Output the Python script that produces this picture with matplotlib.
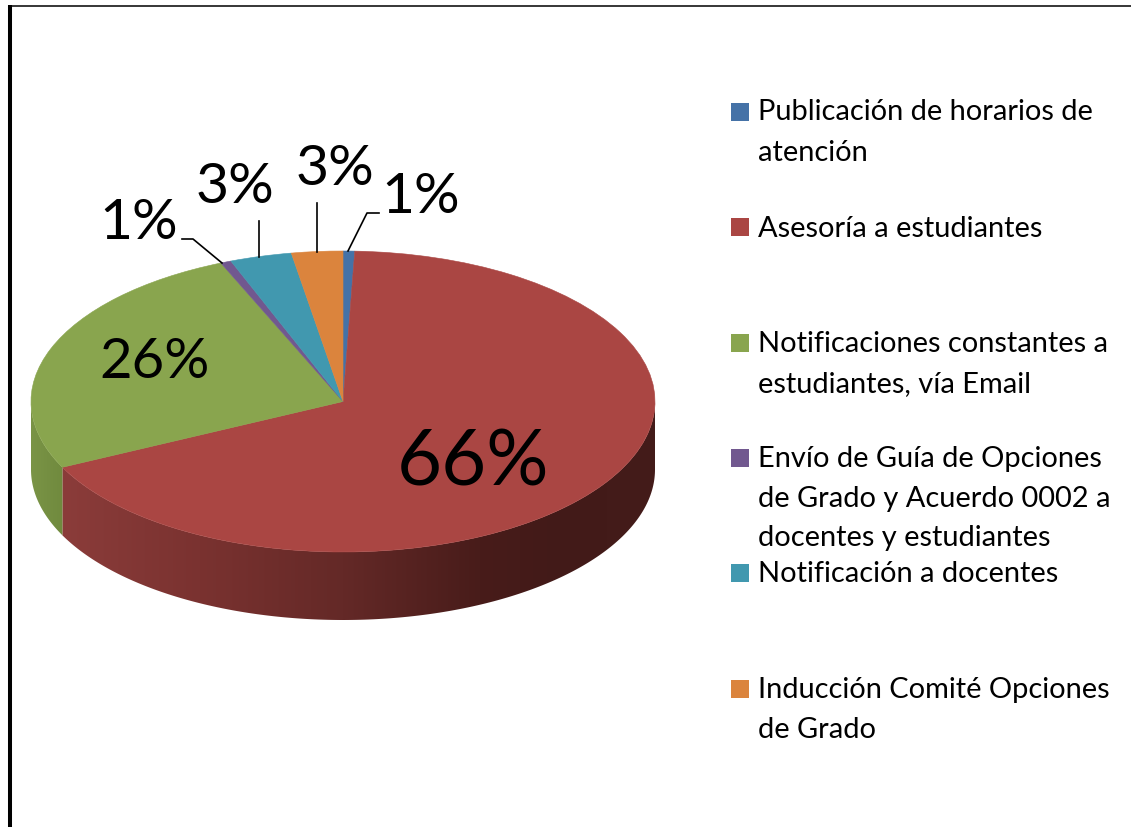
import numpy as np
from matplotlib import pyplot as plt
from matplotlib.patches import Polygon, Rectangle

plt.rcParams['font.family'] = ['Lato', 'DejaVu Sans']

# slice shares (clockwise from the top)
shares = [0.6, 67.2, 25.8, 0.55, 3.2, 2.65]
colors = ['#4572a7', '#aa4643', '#89a54e', '#71588f', '#4198af', '#db843d']
pct_labels = ['1%', '66%', '26%', '1%', '3%', '3%']

legend_lines = [
    ['Publicación de horarios de', 'atención'],
    ['Asesoría a estudiantes'],
    ['Notificaciones constantes a', 'estudiantes, vía Email'],
    ['Envío de Guía de Opciones', 'de Grado y Acuerdo 0002 a', 'docentes y estudiantes'],
    ['Notificación a docentes'],
    ['Inducción Comité Opciones', 'de Grado'],
]
legend_baselines = [[120, 161], [237], [352, 392], [467, 507, 546], [582], [698, 738]]
legend_squares = [103, 218, 334, 449, 564, 680]

W, H = 1131, 827
cx, cy, rx, ry, depth = 343, 401.5, 312, 150.5, 68

# wall shading, by x position in the picture
red_x = [63, 200, 343, 480, 560, 655]
red_side = np.array([[139, 60, 58], [122, 50, 48], [100, 41, 39], [72, 28, 26], [66, 26, 24], [68, 28, 26]]) / 255
green_x = [31, 63]
green_side = np.array([[122, 148, 70], [112, 138, 62]]) / 255


def shade(xs, table):
    grid = np.arange(W) + 0.5
    return np.stack([np.interp(grid, xs, table[:, i]) for i in range(3)], axis=1)[None, :, :]


fig = plt.figure(figsize=(W / 100, H / 100), dpi=100)

# pie axes: the unit circle lands on the ellipse of the top face
ax = fig.add_axes([0, 0, 1, 1])
wedges, _ = ax.pie(shares, colors=colors, startangle=90, counterclock=False)
for w, color in zip(wedges, colors):
    w.set_edgecolor(color)
    w.set_linewidth(0.4)
x0, x1 = -cx / rx, (W - cx) / rx
y0, y1 = -(H - cy) / ry, cy / ry

# side wall, only the front half of the rim shows
edges = np.cumsum([0] + shares) / sum(shares) * 360
drop = depth / ry
red_end = edges[2]


def wall(a, b, xs, table):
    t = np.radians(np.linspace(a, b, 200))
    outline = np.concatenate([
        np.column_stack([np.sin(t), np.cos(t)]),
        np.column_stack([np.sin(t[::-1]), np.cos(t[::-1]) - drop]),
    ])
    clip = Polygon(outline, closed=True, transform=ax.transData, facecolor='none', edgecolor='none')
    ax.add_patch(clip)
    im = ax.imshow(shade(xs, table), extent=(x0, x1, y0, y1), aspect='auto', zorder=0, interpolation='nearest')
    im.set_clip_path(clip)


wall(90, red_end, red_x, red_side)
wall(red_end, 270, green_x, green_side)

ax.set_aspect('auto')
ax.set_xlim(x0, x1)
ax.set_ylim(y0, y1)
ax.axis('off')

# overlay in picture pixels for frame, labels and legend
top = fig.add_axes([0, 0, 1, 1])
top.set_xlim(0, W)
top.set_ylim(H, 0)
top.axis('off')
top.patch.set_alpha(0)

top.plot([9.5, 9.5], [5, H], color='black', lw=2.9, solid_capstyle='butt')
top.plot([8, W], [6, 6], color='black', lw=1.1, solid_capstyle='butt')

# leader lines
top.plot([348, 367, 379], [251, 213, 213], color='black', lw=1.2)
top.plot([317, 317], [203, 252], color='black', lw=1.2)
top.plot([259, 259], [221, 257], color='black', lw=1.2)
top.plot([222, 193, 182], [263, 239, 239], color='black', lw=1.2)

# percent labels
label_pos = [(381, 213, 41), (397, 486, 56), (99, 378, 40.5), (99, 239, 41), (196, 203, 41), (296, 185, 41)]
for text, (x, y, size) in zip(pct_labels, label_pos):
    top.text(x, y, text, fontsize=size, va='baseline', ha='left', color='black')

# legend
for lines, bases, sq, color in zip(legend_lines, legend_baselines, legend_squares, colors):
    top.add_patch(Rectangle((731, sq), 18, 18, facecolor=color, edgecolor='none'))
    for line, base in zip(lines, bases):
        top.text(758, base, line, fontsize=20.9, va='baseline', ha='left', color='black')

fig.savefig('out.png', dpi=100)
